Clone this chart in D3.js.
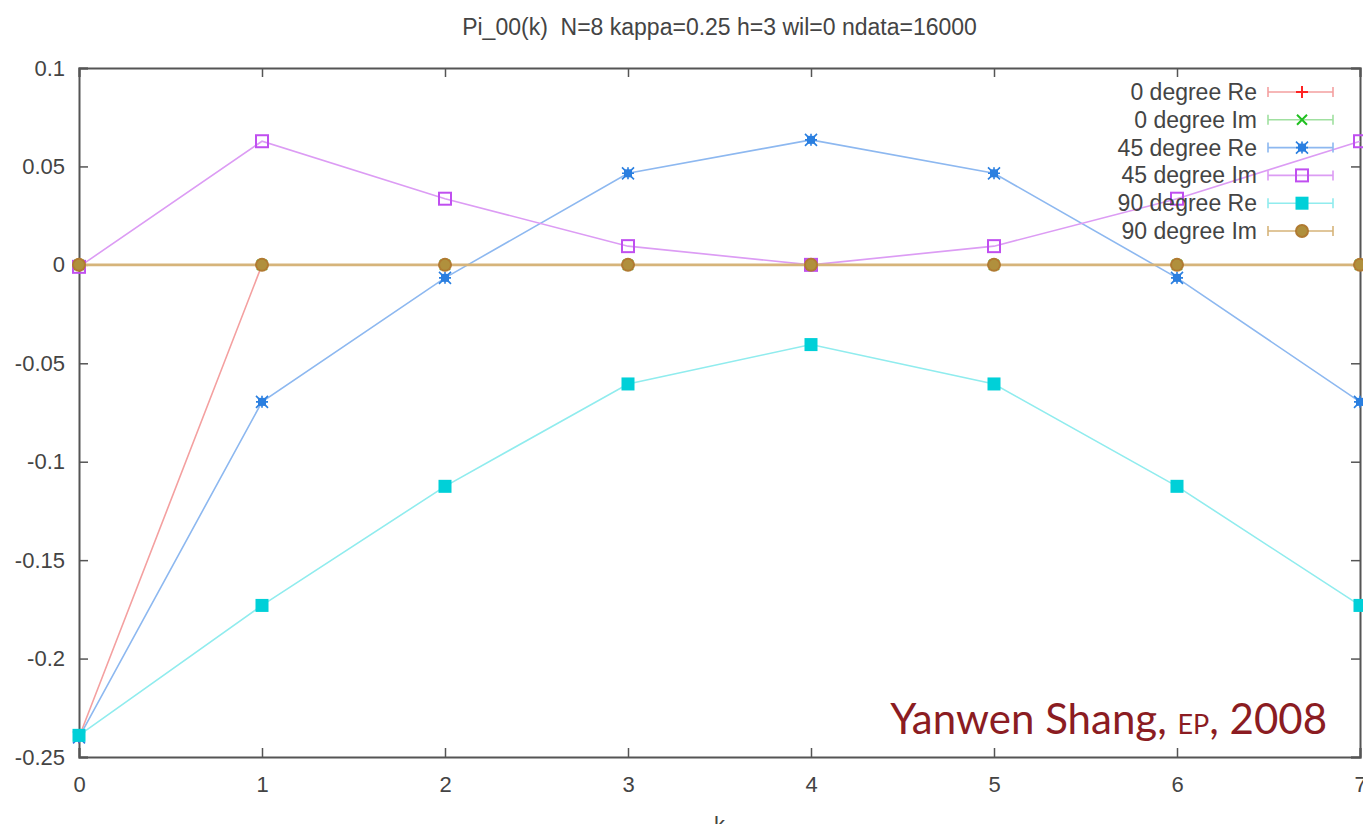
<!DOCTYPE html>
<html>
<head>
<meta charset="utf-8">
<script src="https://cdn.jsdelivr.net/npm/d3@7"></script>
<style>
  body { margin: 0; background: #fff; }
  text { font-family: "Liberation Sans", Arial, sans-serif; fill: #444; white-space: pre; }
</style>
</head>
<body>
<div id="chart"></div>
<script>
// data
const kValues = [0, 1, 2, 3, 4, 5, 6, 7];
const re0 = [-0.24, 0, 0, 0, 0, 0, 0, 0];
const im0 = [0, 0, 0, 0, 0, 0, 0, 0];
const re45 = [-0.24, -0.0696, -0.0066, 0.0465, 0.0635, 0.0465, -0.0066, -0.0696];
const im45 = [-0.001, 0.0628, 0.0336, 0.0095, 0, 0.0095, 0.0336, 0.0628];
const re90 = [-0.239, -0.173, -0.1125, -0.0605, -0.0405, -0.0605, -0.1125, -0.173];
const im90 = [0, 0, 0, 0, 0, 0, 0, 0];
const seriesNames = ["0 degree Re", "0 degree Im", "45 degree Re", "45 degree Im", "90 degree Re", "90 degree Im"];
const yTicks = [0.1, 0.05, 0, -0.05, -0.1, -0.15, -0.2, -0.25];
const yTickLabels = ["0.1", "0.05", "0", "-0.05", "-0.1", "-0.15", "-0.2", "-0.25"];
const xTicks = [0, 1, 2, 3, 4, 5, 6, 7];

const W = 1363, H = 824;
const margin = {top: 68, right: 3, bottom: 67, left: 79};

const svg = d3.select("#chart").append("svg")
    .attr("width", W)
    .attr("height", H);

const defs = svg.append("defs");
defs.append("filter").attr("id", "soft")
  .append("feGaussianBlur").attr("stdDeviation", 0.7);

const x = d3.scaleLinear().domain([0, 7]).range([margin.left, W - margin.right]);
const y = d3.scaleLinear().domain([-0.25, 0.1]).range([H - margin.bottom, margin.top]);

// title
svg.append("text")
    .attr("x", (x(0) + x(7)) / 2)
    .attr("y", 35)
    .attr("text-anchor", "middle")
    .style("font-size", "23px")
    .text("Pi_00(k)  N=8 kappa=0.25 h=3 wil=0 ndata=16000");

// axes (ticks point inward like gnuplot)
const axisColor = "#555";
const gL = svg.append("g")
    .attr("transform", "translate(" + x(0) + ",0)")
    .call(d3.axisLeft(y).tickValues(yTicks).tickSize(-9).tickPadding(14)
      .tickFormat((d, i) => yTickLabels[i]));
const gR = svg.append("g")
    .attr("transform", "translate(" + x(7) + ",0)")
    .call(d3.axisRight(y).tickValues(yTicks).tickSize(-9).tickFormat(""));
const gB = svg.append("g")
    .attr("transform", "translate(0," + y(-0.25) + ")")
    .call(d3.axisBottom(x).tickValues(xTicks).tickSize(-9).tickPadding(19).tickFormat(d3.format("d")));
const gT = svg.append("g")
    .attr("transform", "translate(0," + y(0.1) + ")")
    .call(d3.axisTop(x).tickValues(xTicks).tickSize(-9).tickFormat(""));
[gL, gR, gB, gT].forEach(g => {
  g.select(".domain").attr("stroke", axisColor).attr("stroke-width", 2);
  g.selectAll(".tick line").attr("stroke", axisColor).attr("stroke-width", 1.5);
  g.selectAll(".tick text").style("font-size", "22px").attr("fill", "#444")
    .style("font-family", "'Liberation Sans', Arial, sans-serif");
});

// x label, clipped by the bottom edge as in the original
svg.append("text")
    .attr("x", (x(0) + x(7)) / 2)
    .attr("y", 832)
    .attr("text-anchor", "middle")
    .style("font-size", "22px")
    .text("k");

const series = [
  {name: seriesNames[0], vals: re0, color: "#ff2020", line: "#f4a0a0", shape: "plus"},
  {name: seriesNames[1], vals: im0, color: "#20c020", line: "#a0e0a0", shape: "cross"},
  {name: seriesNames[2], vals: re45, color: "#2a7fe0", line: "#8db8f0", shape: "star"},
  {name: seriesNames[3], vals: im45, color: "#c050f0", line: "#dc9cf4", shape: "box"},
  {name: seriesNames[4], vals: re90, color: "#00d0d8", line: "#90ecee", shape: "fbox"},
  {name: seriesNames[5], vals: im90, color: "#b07a30", line: "#d6b47a", shape: "circle"}
];

function drawMarker(g, shape, color, cx, cy) {
  if (shape === "plus") {
    g.append("path").attr("d", `M${cx-6},${cy}H${cx+6}M${cx},${cy-6}V${cy+6}`)
      .attr("stroke", color).attr("stroke-width", 2);
  } else if (shape === "cross") {
    g.append("path").attr("d", `M${cx-5},${cy-5}L${cx+5},${cy+5}M${cx-5},${cy+5}L${cx+5},${cy-5}`)
      .attr("stroke", color).attr("stroke-width", 2);
  } else if (shape === "star") {
    g.append("rect").attr("x", cx-4).attr("y", cy-4).attr("width", 8).attr("height", 8)
      .attr("fill", color);
    g.append("path").attr("d", `M${cx-6},${cy-6}L${cx+6},${cy+6}M${cx-6},${cy+6}L${cx+6},${cy-6}M${cx-6},${cy}H${cx+6}M${cx},${cy-6}V${cy+6}`)
      .attr("stroke", color).attr("stroke-width", 1.6);
  } else if (shape === "box") {
    g.append("rect").attr("x", cx-6).attr("y", cy-6).attr("width", 12).attr("height", 12)
      .attr("fill", "none").attr("stroke", color).attr("stroke-width", 2);
  } else if (shape === "fbox") {
    g.append("rect").attr("x", cx-6.5).attr("y", cy-6.5).attr("width", 13).attr("height", 13)
      .attr("fill", color);
  } else if (shape === "circle") {
    g.append("circle").attr("cx", cx).attr("cy", cy).attr("r", 6)
      .attr("fill", "#b0903e").attr("stroke", color).attr("stroke-width", 2);
  }
}

const plot = svg.append("g").attr("filter", "url(#soft)");
const line = d3.line().x((d, i) => x(kValues[i])).y(d => y(d));

series.forEach(s => {
  plot.append("path")
      .datum(s.vals)
      .attr("fill", "none")
      .attr("stroke", s.line)
      .attr("stroke-width", s.shape === "circle" ? 2.6 : 1.6)
      .attr("d", line);
  const mg = plot.append("g");
  s.vals.forEach((v, i) => drawMarker(mg, s.shape, s.color, x(kValues[i]), y(v)));
});

// legend
const legend = svg.append("g");
series.forEach((s, i) => {
  const ly = 92 + i * 27.8;
  legend.append("text")
      .attr("x", 1257)
      .attr("y", ly)
      .attr("dy", "0.35em")
      .attr("text-anchor", "end")
      .style("font-size", "23px")
      .text(s.name);
  const lg = legend.append("g").attr("filter", "url(#soft)");
  lg.append("path")
      .attr("d", `M1268,${ly}H1333M1268,${ly-5}V${ly+5}M1333,${ly-5}V${ly+5}`)
      .attr("stroke", s.line).attr("stroke-width", 1.6).attr("fill", "none");
  drawMarker(lg, s.shape, s.color, 1302, ly);
});

// annotation
const note = svg.append("text")
    .attr("x", 1327)
    .attr("y", 734)
    .attr("text-anchor", "end")
    .style("font-family", "Lato, 'Open Sans', sans-serif")
    .style("font-size", "42px")
    .style("fill", "#8b1c22");
note.append("tspan").text("Yanwen Shang, ");
note.append("tspan").style("font-size", "27px").text("EP");
note.append("tspan").text(", 2008");
</script>
</body>
</html>
